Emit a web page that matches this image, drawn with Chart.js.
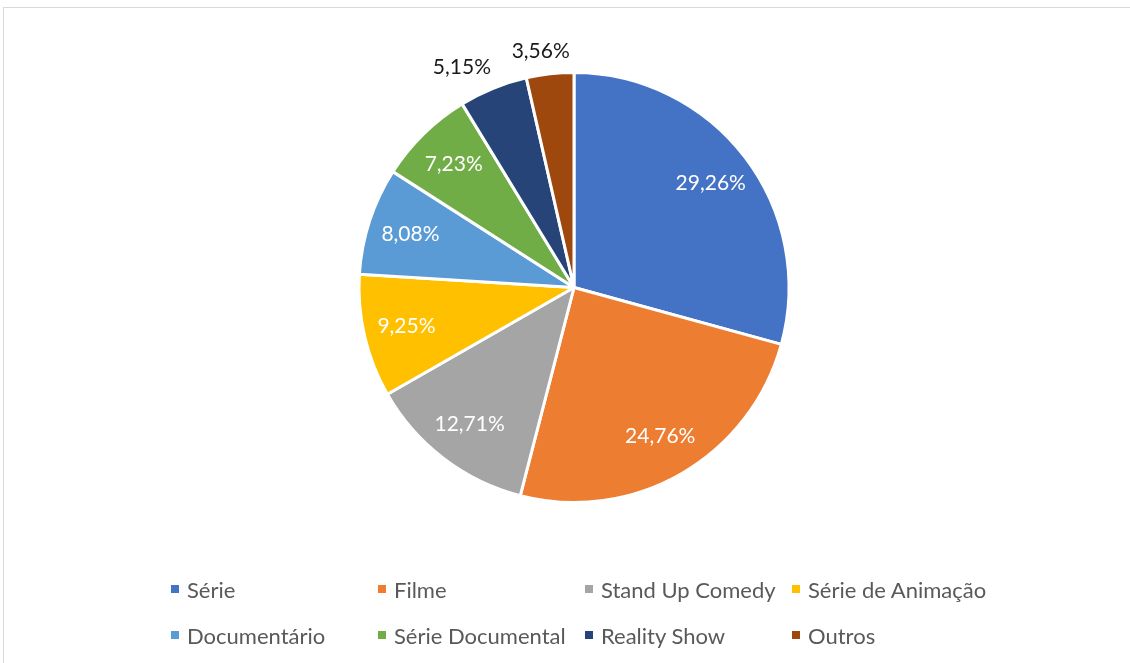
<!DOCTYPE html>
<html lang="pt">
<head>
<meta charset="utf-8">
<title>Tipos de conteúdo</title>
<script src="https://cdn.jsdelivr.net/npm/chart.js@4"></script>
<style>
    html, body { margin: 0; padding: 0; background: #fff; }
    #wrap { position: relative; width: 1130px; height: 663px; overflow: hidden; }
    #frame {
        position: absolute; left: 3px; top: 7px; right: -5px; bottom: -5px;
        border-top: 1px solid #d9d9d9; border-left: 1px solid #d9d9d9;
    }
    #pie { position: absolute; left: 0; top: 0; }
    #legend {
        position: absolute; left: 171px; top: 566px;
        display: grid; grid-template-columns: repeat(4, 207px);
        grid-auto-rows: 46px;
        font-family: Lato, 'Noto Sans', sans-serif; font-size: 22px; color: #595959;
    }
    .item { display: flex; align-items: center; white-space: nowrap; }
    .box { width: 8px; height: 8px; margin-right: 8px; flex: none; }
</style>
</head>
<body>
<div id="wrap">
    <div id="frame"></div>
    <canvas id="pie" width="1130" height="663"></canvas>
    <div id="legend"></div>
</div>
<script>
// Share of each content type (%)
const categories = ['Série', 'Filme', 'Stand Up Comedy', 'Série de Animação',
    'Documentário', 'Série Documental', 'Reality Show', 'Outros'];
const shares = [29.26, 24.76, 12.71, 9.25, 8.08, 7.23, 5.15, 3.56];
const colors = ['#4472C4', '#ED7D31', '#A5A5A5', '#FFC000',
    '#5B9BD5', '#70AD47', '#264478', '#9E480E'];

const fmt = v => v.toFixed(2).replace('.', ',') + '%';

// Percent labels: inside the slice, or just outside for the thin ones
const sliceLabels = {
    id: 'sliceLabels',
    afterDatasetsDraw(chart) {
        const ctx = chart.ctx;
        const arcs = chart.getDatasetMeta(0).data;
        ctx.save();
        ctx.font = '21px Lato, sans-serif';
        ctx.textAlign = 'center';
        ctx.textBaseline = 'middle';
        arcs.forEach((arc, i) => {
            const p = arc.getProps(['x', 'y', 'startAngle', 'endAngle', 'outerRadius'], true);
            const mid = (p.startAngle + p.endAngle) / 2;
            const text = fmt(shares[i]);
            const outside = shares[i] < 6;
            let x, y;
            if (outside) {
                // push the label away from the rim so its edge clears the arc
                const r = p.outerRadius + 25;
                const w = ctx.measureText(text).width;
                x = p.x + Math.cos(mid) * r + Math.cos(mid) * w;
                y = p.y + Math.sin(mid) * r + 2;
                ctx.fillStyle = '#1a1a1a';
            } else {
                const r = p.outerRadius * 0.8;
                x = p.x + Math.cos(mid) * r;
                y = p.y + Math.sin(mid) * r;
                ctx.fillStyle = '#ffffff';
            }
            ctx.fillText(text, x, y);
        });
        ctx.restore();
    }
};

new Chart(document.getElementById('pie'), {
    type: 'pie',
    data: {
        labels: categories,
        datasets: [{
            data: shares,
            backgroundColor: colors,
            borderColor: '#ffffff',
            borderWidth: 3
        }]
    },
    options: {
        responsive: false,
        animation: false,
        layout: { padding: { top: 71, bottom: 159, left: 18, right: 0 } },
        plugins: {
            legend: { display: false },
            tooltip: { enabled: false }
        }
    },
    plugins: [sliceLabels]
});

// Legend below the pie, four equal columns
const legend = document.getElementById('legend');
categories.forEach((name, i) => {
    const item = document.createElement('div');
    item.className = 'item';
    const box = document.createElement('span');
    box.className = 'box';
    box.style.background = colors[i];
    item.appendChild(box);
    item.appendChild(document.createTextNode(name));
    legend.appendChild(item);
});
</script>
</body>
</html>
